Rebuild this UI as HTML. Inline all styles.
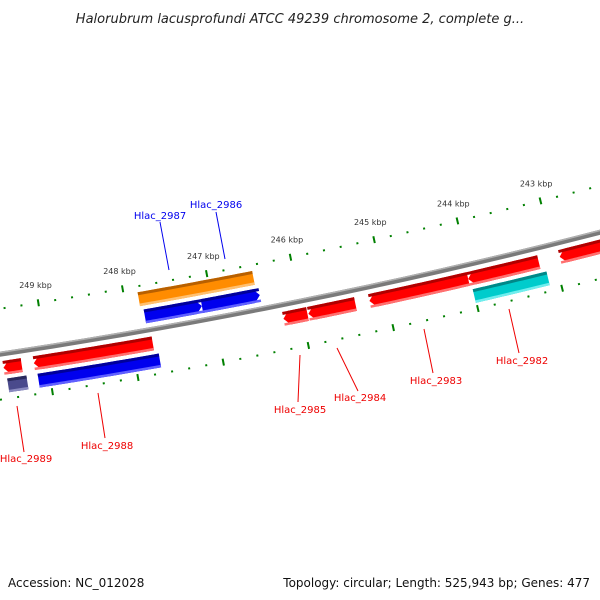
<!DOCTYPE html>
<html><head><meta charset="utf-8"><style>
html,body{margin:0;padding:0;background:#fff}
svg{display:block}
text{font-family:"DejaVu Sans","Liberation Sans",sans-serif}
</style></head><body>
<svg id="map" width="600" height="600" viewBox="0 0 600 600" xmlns="http://www.w3.org/2000/svg">
<text x="300" y="23" text-anchor="middle" font-size="13" font-style="italic" fill="#222">Halorubrum lacusprofundi ATCC 49239 chromosome 2, complete g...</text>
<g id="ticks"></g>
<g id="backbone"></g>
<g id="genes"></g>
<g id="labels"></g>
<text x="8" y="587" font-size="12" fill="#111">Accession: NC_012028</text>
<text x="590" y="587" text-anchor="end" font-size="12" fill="#111">Topology: circular; Length: 525,943 bp; Genes: 477</text>
</svg>
<script>
// data (kbp)
const tickMajors = [249,248,247,246,245,244,243];
const tickLabels = ["249 kbp","248 kbp","247 kbp","246 kbp","245 kbp","244 kbp","243 kbp"];
const geneNames  = ["orange-feature","Hlac_2987","Hlac_2986","Hlac_2989","Hlac_2989-b","Hlac_2988","Hlac_2988-b","Hlac_2985","Hlac_2984","Hlac_2983","Hlac_2982","Hlac_2982-b","Hlac_2981"];
const geneStart  = [247.834,247.799,247.124,249.517,249.493,249.161,249.137,246.222,245.927,245.204,244.031,244.007,242.94];
const geneEnd    = [246.472,247.124,246.437,249.303,249.268,247.763,247.716,245.938,245.370,244.031,243.19,243.13,242.30];
const geneRow    = [-2,-1,-1,1,2,1,2,1,1,1,1,2,1];
const geneDir    = [0,1,1,-1,0,-1,0,-1,-1,-1,-1,0,-1];
const geneColor  = ["orange","blue","blue","red","purple","red","blue","red","red","red","red","cyan","red"];
const labelText  = ["Hlac_2987","Hlac_2986","Hlac_2989","Hlac_2988","Hlac_2985","Hlac_2984","Hlac_2983","Hlac_2982"];
const labelColor = ["#0000ee","#0000ee","#ee0000","#ee0000","#ee0000","#ee0000","#ee0000","#ee0000"];

const NS="http://www.w3.org/2000/svg";
const CX=-892, CY=-5571, RB=5992;
function ang(k){return (81.0-(249-k)*0.823)*Math.PI/180;}
function pt(k,r){const a=ang(k);return [CX+r*Math.cos(a),CY+r*Math.sin(a)];}
function mk(tag,attrs,parent){const e=document.createElementNS(NS,tag);for(const k in attrs)e.setAttribute(k,attrs[k]);parent.appendChild(e);return e;}
const pal={red:["#ff0000","#b00000","#ff7070"],blue:["#0000ee","#00009a","#6060ff"],orange:["#ff8c00","#b86000","#ffc070"],cyan:["#00cccc","#008888","#70eeee"],purple:["#4a4a8c","#2a2a5c","#8a8ac0"]};
const rows={"-2":[RB-39,RB-25],"-1":[RB-21,RB-7],"1":[RB+7,RB+21],"2":[RB+25,RB+39]};

// ticks
const tg=document.getElementById('ticks');
for(let i=0;i<=40;i++){
  const k=249.6-i*0.2; const major=Math.abs(k-Math.round(k))<0.01;
  [RB-45,RB+45].forEach((r,j)=>{
    const h=major?3.5:1;
    const a=pt(k,r-h),b=pt(k,r+h);
    const l=mk('line',{x1:a[0],y1:a[1],x2:b[0],y2:b[1],stroke:'#008000','stroke-width':major?2:2},tg);
    
    
  });
}
tickMajors.forEach((k,i)=>{
  const p=pt(k,RB-63);
  const t=mk('text',{x:p[0],y:p[1]+3,'text-anchor':'middle','font-size':'8',fill:'#333'},tg);
  t.textContent=tickLabels[i];
  
  
});

// backbone
const bb=document.getElementById('backbone');
function arcPath(k1,k2,r1,r2,dir){
  const n=24,pts=[];const head=6/84.4;
  let a1=k1,a2=k2; // a1 > a2 (left to right)
  let s=a1,e=a2;
  if(dir===1)e=a2+head; if(dir===-1)s=a1-head;
  for(let i=0;i<=n;i++){const k=s+(e-s)*i/n;pts.push(pt(k,r1));}
  if(dir===1)pts.push(pt(a2,(r1+r2)/2));
  for(let i=n;i>=0;i--){const k=s+(e-s)*i/n;pts.push(pt(k,r2));}
  if(dir===-1)pts.push(pt(a1,(r1+r2)/2));
  return 'M'+pts.map(p=>p[0].toFixed(2)+','+p[1].toFixed(2)).join('L')+'Z';
}
const b1=mk('path',{d:arcPath(251,241,RB-2.5,RB+2.5,0),fill:'#7a7a7a'},bb);


const b2=mk('path',{d:arcPath(251,241,RB-2.5,RB-1,0),fill:'#b0b0b0'},bb);



// genes
const gg=document.getElementById('genes');
geneStart.forEach((s,i)=>{
  const [r1,r2]=rows[geneRow[i]]; const c=pal[geneColor[i]];
  const g=mk('g',{},gg);
  
  
  mk('path',{d:arcPath(s,geneEnd[i],r1,r2,geneDir[i]),fill:c[0]},g);
  mk('path',{d:arcPath(s,geneEnd[i],r1,r1+3,0),fill:c[1]},g);
  mk('path',{d:arcPath(s,geneEnd[i],r2-2.5,r2,0),fill:c[2]},g);
});

// labels: [textX,textY,lineX1,lineY1,lineX2,lineY2]
const labelPos=[[160,219,160,222,169,270],[216,208,216,212,225,259],[26,462,17,406,24,452],[107,449,98,393,105,438],[300,413,300,355,298,402],[360,401,337,348,358,391],[436,384,424,329,433,373],[522,364,509,309,519,353]];
const lg=document.getElementById('labels');
labelText.forEach((t,i)=>{
  const p=labelPos[i];
  const l=mk('line',{x1:p[2],y1:p[3],x2:p[4],y2:p[5],stroke:labelColor[i],'stroke-width':1},lg);
  
  
  const tx=mk('text',{x:p[0],y:p[1],'text-anchor':'middle','font-size':'10',fill:labelColor[i]},lg);
  tx.textContent=t;
  
  
});
</script>
</body></html>
